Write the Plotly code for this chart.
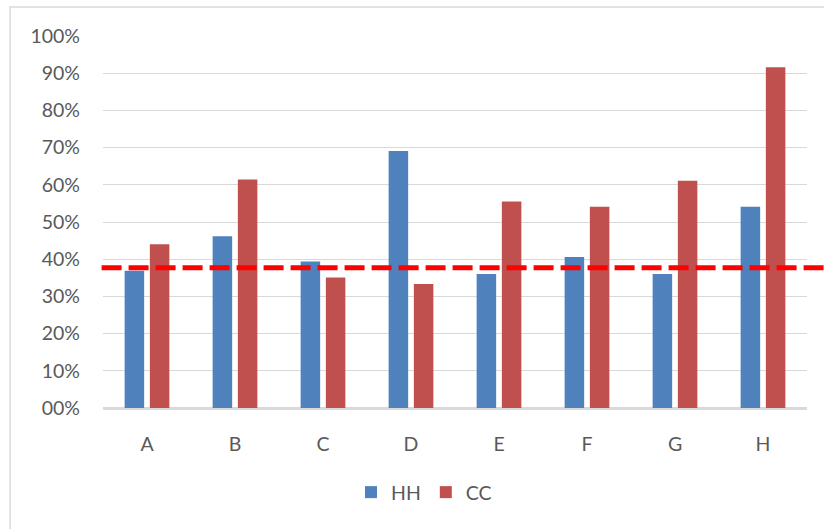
import plotly.graph_objects as go

categories = ["A", "B", "C", "D", "E", "F", "G", "H"]
hh_values = [0.369, 0.462, 0.394, 0.691, 0.360, 0.406, 0.360, 0.541]
cc_values = [0.440, 0.614, 0.351, 0.333, 0.555, 0.541, 0.611, 0.916]
threshold = 0.377
tick_vals = [0, 0.1, 0.2, 0.3, 0.4, 0.5, 0.6, 0.7, 0.8, 0.9, 1.0]
tick_text = ["00%", "10%", "20%", "30%", "40%", "50%", "60%", "70%", "80%", "90%", "100%"]

BLUE = "#4F81BD"
RED = "#C0504D"
GRID = "#D9D9D9"
TEXT = "#595959"
FONT = "Lato, 'Open Sans', sans-serif"
FS = 19.5

fig = go.Figure()
fig.add_trace(go.Bar(x=categories, y=hh_values, name="HH", marker=dict(color=BLUE, line=dict(width=0))))
fig.add_trace(go.Bar(x=categories, y=cc_values, name="CC", marker=dict(color=RED, line=dict(width=0))))

# dashed reference line extending beyond plot area
fig.add_shape(type="line", xref="paper", yref="y", x0=-0.002, x1=1.03, y0=threshold, y1=threshold,
              line=dict(color="#FF0000", width=5, dash="20px,7px"), layer="above")

# outer chart border (cropped at right/bottom)
fig.add_shape(type="rect", xref="paper", yref="paper", x0=-0.132, x1=1.1, y0=-0.4, y1=1.078,
              line=dict(color=GRID, width=1.5), fillcolor="rgba(0,0,0,0)", layer="below")

fig.update_layout(
    width=824, height=529,
    margin=dict(l=103, r=17, t=36, b=121),
    paper_bgcolor="white", plot_bgcolor="white",
    barmode="group", bargap=0.427, bargroupgap=0.226,
    font=dict(family=FONT, size=FS, color=TEXT),
    showlegend=True,
    legend=dict(orientation="h", x=0.456, y=-0.227, xanchor="center", yanchor="middle",
                font=dict(size=FS, color=TEXT), itemwidth=30, traceorder="normal"),
)
fig.update_xaxes(showgrid=False, showline=True, linecolor=GRID, linewidth=1.5, ticks="",
                 tickfont=dict(size=FS, color=TEXT), ticklabelstandoff=18)
fig.update_yaxes(range=[0, 1.0], tickvals=tick_vals, ticktext=tick_text, showgrid=True,
                 gridcolor=GRID, gridwidth=1.3, zeroline=True, zerolinecolor=GRID, zerolinewidth=1.5,
                 showline=False, ticks="", tickfont=dict(size=FS, color=TEXT), ticklabelstandoff=22)

fig.write_html("out.html", config={"displayModeBar": False},
               post_script="document.body.style.margin='0';document.body.style.overflow='hidden';")
